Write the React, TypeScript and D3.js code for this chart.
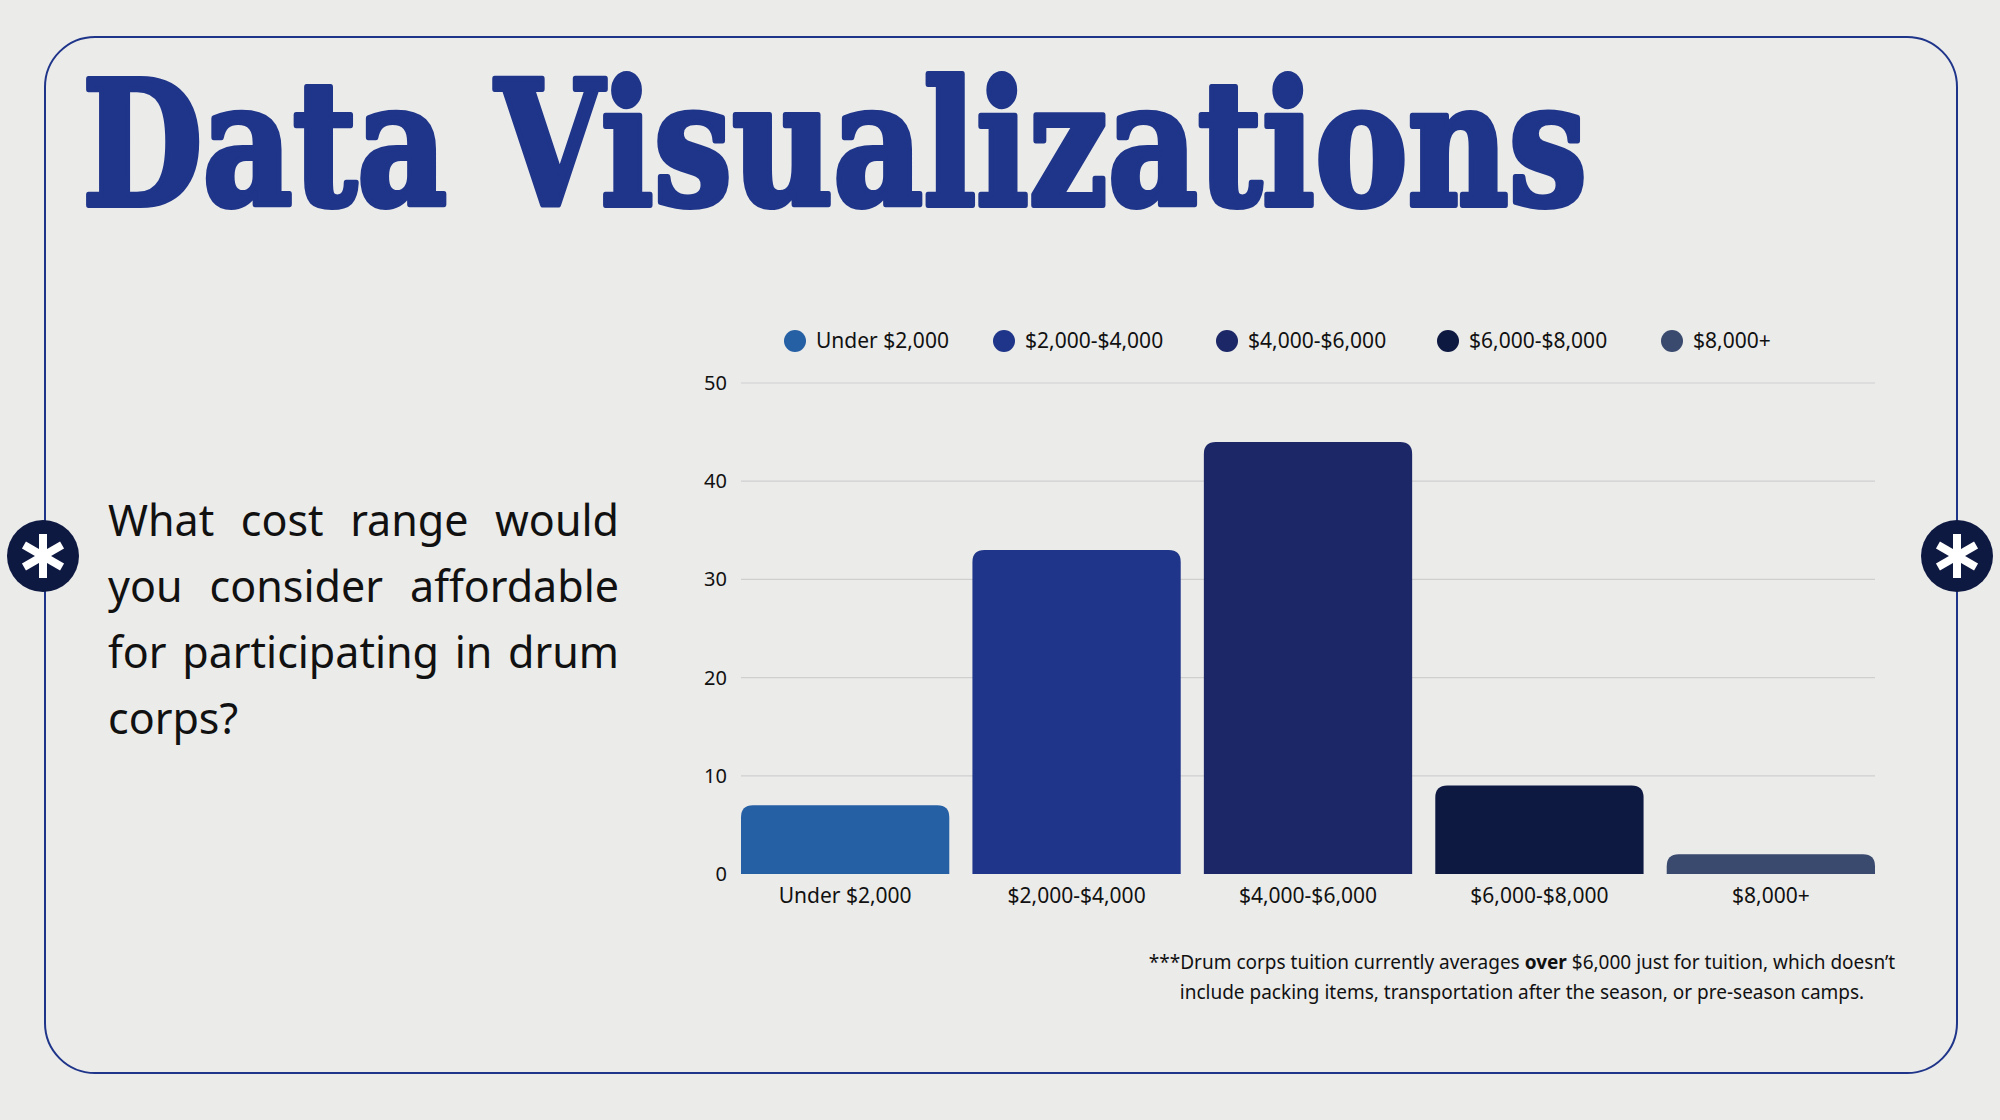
import React from "react";
import * as d3 from "d3";

const categories = ["Under $2,000", "$2,000-$4,000", "$4,000-$6,000", "$6,000-$8,000", "$8,000+"];
const values = [7, 33, 44, 9, 2];
const colors = ["#2660a4", "#1f3589", "#1b2766", "#0e1942", "#3a4a6e"];
const yTicks = [0, 10, 20, 30, 40, 50];
const legendX = [795, 1004, 1227, 1448, 1672];
const questionLines = [["What", "cost", "range", "would"], ["you", "consider", "affordable"], ["for", "participating", "in", "drum"], ["corps?"]];

const FONT = "'Noto Sans', 'Open Sans', sans-serif";

function measure(t: string, font: string) {
  const c = document.createElement("canvas").getContext("2d")!;
  c.font = font;
  return c.measureText(t).width;
}

function Asterisk({ cx, cy }: { cx: number; cy: number }) {
  return (
    <g transform={`translate(${cx},${cy})`}>
      <circle r={36} fill="#0e1942" />
      {[0, 60, 120].map((a) => (
        <rect key={a} x={-4} y={-22} width={8} height={44} fill="#fff" transform={`rotate(${a})`} />
      ))}
    </g>
  );
}

export default function App() {
  const W = 2000, H = 1120;
  const x = d3.scaleBand<string>().domain(categories).range([741, 1875]).paddingInner(0.1).paddingOuter(0);
  const y = d3.scaleLinear().domain([0, 50]).range([874, 383]);
  const qFont = `43px ${FONT}`;
  const qLeft = 108, qRight = 619;
  const barPath = (x0: number, y0: number, w: number, h: number, r: number) => {
    const rr = Math.min(r, h);
    return `M${x0},${y0 + h}V${y0 + rr}Q${x0},${y0} ${x0 + rr},${y0}H${x0 + w - rr}Q${x0 + w},${y0} ${x0 + w},${y0 + rr}V${y0 + h}Z`;
  };
  return (
    <svg width={W} height={H} style={{ display: "block", position: "absolute", left: 0, top: 0 }}>
      <rect width={W} height={H} fill="#ebebea" />
      <rect x={45} y={37} width={1912} height={1036} rx={50} fill="none" stroke="#1f3589" strokeWidth={2} />
      <Asterisk cx={43} cy={556} />
      <Asterisk cx={1957} cy={556} />
      <text x={82} y={205} fontFamily="'DejaVu Serif', serif" fontWeight="bold" fontSize={172} fill="#1f3589" stroke="#1f3589" strokeWidth={6} strokeLinejoin="round" textLength={1505} lengthAdjust="spacingAndGlyphs">Data Visualizations</text>
      {questionLines.map((words, i) => {
        const yy = 536 + i * 66;
        const widths = words.map((w) => measure(w, qFont));
        const total = widths.reduce((a, b) => a + b, 0);
        const justify = i < questionLines.length - 1 && words.length > 1;
        const gap = justify ? (qRight - qLeft - total) / (words.length - 1) : measure(" ", qFont);
        let cx = qLeft;
        return words.map((w, j) => {
          const el = <text key={`${i}-${j}`} x={cx} y={yy} fontFamily={FONT} fontSize={43} fill="#111">{w}</text>;
          cx += widths[j] + gap;
          return el;
        });
      })}
      {categories.map((c, i) => (
        <g key={c}>
          <circle cx={legendX[i]} cy={341} r={11} fill={colors[i]} />
          <text x={legendX[i] + 21} y={348} fontFamily={FONT} fontSize={21} fill="#111">{c}</text>
        </g>
      ))}
      {yTicks.map((t) => (
        <g key={t}>
          {t > 0 && <line x1={741} x2={1875} y1={y(t)} y2={y(t)} stroke="#cfcfcf" strokeWidth={1.2} />}
          <text x={727} y={y(t) + 7} textAnchor="end" fontFamily={FONT} fontSize={20} fill="#111">{t}</text>
        </g>
      ))}
      {categories.map((c, i) => (
        <path key={c} d={barPath(x(c)!, y(values[i]), x.bandwidth(), y(0) - y(values[i]), 12)} fill={colors[i]} />
      ))}
      {categories.map((c) => (
        <text key={c} x={x(c)! + x.bandwidth() / 2} y={903} textAnchor="middle" fontFamily={FONT} fontSize={21} fill="#111">{c}</text>
      ))}
      <text x={1522} y={969} textAnchor="middle" fontFamily={FONT} fontSize={19} fill="#111">
        ***Drum corps tuition currently averages <tspan fontWeight="bold">over</tspan> $6,000 just for tuition, which doesn’t
      </text>
      <text x={1522} y={999} textAnchor="middle" fontFamily={FONT} fontSize={19} fill="#111">
        include packing items, transportation after the season, or pre-season camps.
      </text>
    </svg>
  );
}
